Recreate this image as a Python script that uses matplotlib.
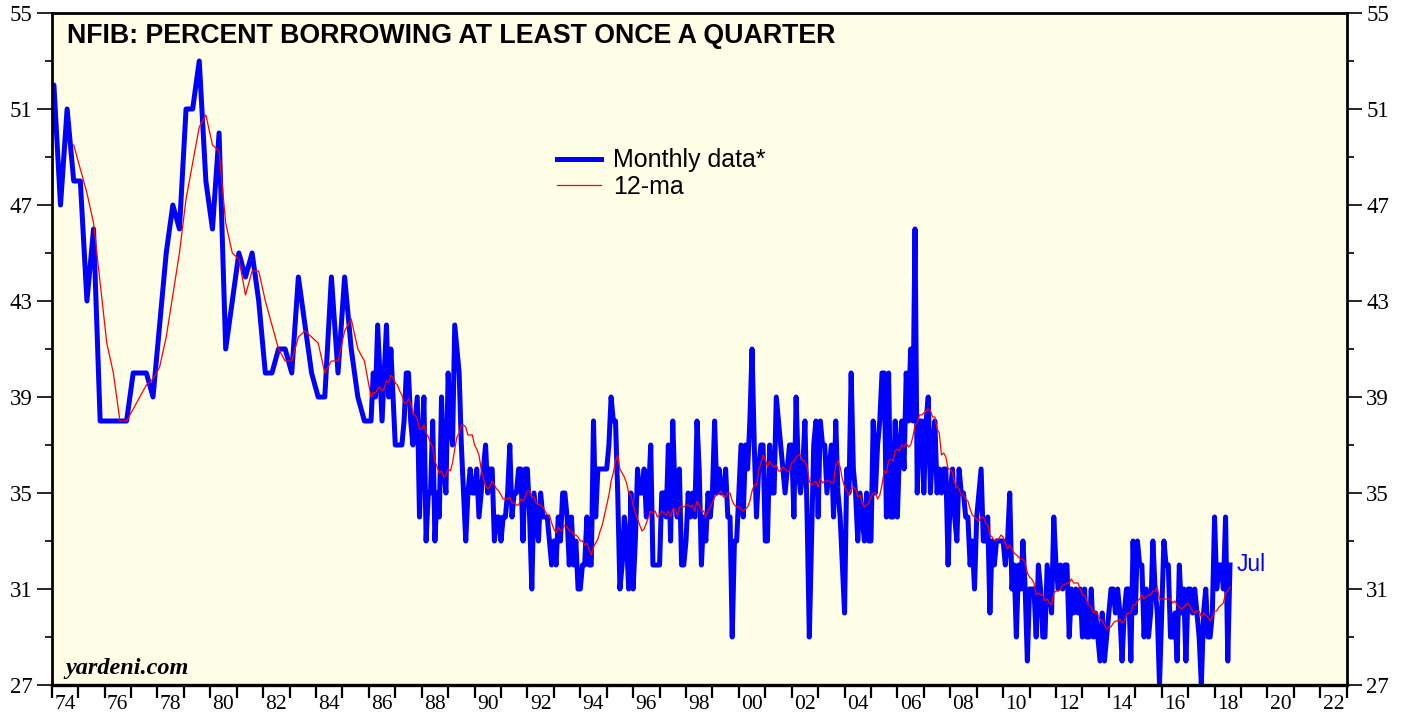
import matplotlib
matplotlib.use("Agg")
import matplotlib.pyplot as plt
from matplotlib.ticker import FixedLocator, NullFormatter
import numpy as np
import pandas as pd

# NFIB survey was quarterly (Jan/Apr/Jul/Oct) until 1985, monthly after
quarterly_start = "1973-10-01"
quarterly_values = [
    48,
    52, 47, 51, 48,
    48, 43, 46, 38,
    38, 38, 38, 38,
    40, 40, 40, 39,
    42, 45, 47, 46,
    51, 51, 53, 48,
    46, 50, 41, 43,
    45, 44, 45, 43,
    40, 40, 41, 41,
    40, 44, 42, 40,
    39, 39, 44, 40,
    44, 41, 39, 38,
]

monthly_start = "1986-01-01"
monthly_values = [
    38, 40, 39, 42, 40, 38, 40, 42, 39, 41, 39, 37,  # 1986
    37, 37, 37, 38, 40, 40, 38, 37, 38, 39, 34, 37,  # 1987
    39, 33, 35, 35, 38, 33, 35, 34, 39, 36, 35, 40,  # 1988
    38, 37, 42, 41, 40, 37, 35, 33, 35, 36, 35, 35,  # 1989
    36, 34, 35, 36, 37, 35, 36, 36, 33, 34, 34, 33,  # 1990
    34, 34, 35, 37, 34, 35, 35, 36, 36, 33, 36, 36,  # 1991
    34, 31, 35, 34, 33, 35, 34, 34, 34, 33, 32, 33,  # 1992
    32, 34, 33, 35, 35, 34, 32, 34, 32, 33, 31, 31,  # 1993
    32, 32, 34, 32, 32, 38, 34, 36, 36, 36, 36, 36,  # 1994
    37, 39, 38, 38, 35, 31, 32, 34, 33, 31, 35, 31,  # 1995
    33, 36, 35, 35, 36, 34, 35, 37, 32, 32, 32, 32,  # 1996
    35, 35, 34, 37, 33, 38, 35, 34, 36, 32, 32, 33,  # 1997
    35, 34, 35, 34, 38, 36, 32, 34, 33, 35, 34, 35,  # 1998
    38, 35, 36, 35, 35, 36, 34, 34, 29, 33, 33, 35,  # 1999
    37, 34, 37, 36, 38, 41, 37, 34, 36, 37, 37, 33,  # 2000
    33, 37, 35, 35, 39, 38, 37, 36, 35, 36, 37, 37,  # 2001
    34, 39, 36, 35, 36, 38, 34, 29, 33, 37, 38, 34,  # 2002
    38, 37, 37, 35, 36, 37, 34, 38, 35, 34, 32, 30,  # 2003
    36, 35, 40, 36, 35, 33, 35, 34, 33, 35, 33, 33,  # 2004
    38, 35, 37, 38, 40, 40, 34, 40, 34, 34, 38, 34,  # 2005
    37, 38, 36, 40, 38, 41, 38, 46, 35, 38, 38, 35,  # 2006
    38, 39, 35, 37, 38, 35, 36, 35, 36, 36, 32, 35,  # 2007
    36, 34, 33, 36, 35, 35, 34, 34, 32, 33, 31, 34,  # 2008
    35, 36, 33, 33, 34, 30, 33, 32, 33, 33, 33, 33,  # 2009
    32, 33, 35, 31, 32, 29, 32, 31, 33, 31, 28, 31,  # 2010
    31, 31, 29, 32, 31, 29, 29, 32, 31, 30, 34, 32,  # 2011
    31, 32, 31, 32, 32, 29, 31, 30, 31, 30, 31, 29,  # 2012
    31, 29, 29, 31, 29, 30, 29, 28, 30, 28, 29, 30,  # 2013
    31, 31, 30, 31, 30, 28, 30, 31, 31, 28, 33, 30,  # 2014
    33, 32, 32, 29, 31, 29, 30, 33, 31, 30, 27, 30,  # 2015
    33, 32, 32, 29, 29, 30, 28, 32, 30, 31, 28, 31,  # 2016
    31, 30, 31, 30, 29, 27, 30, 31, 29, 29, 30, 34,  # 2017
    31, 32, 32, 31, 34, 28, 32,                      # 2018
]

title = "NFIB: PERCENT BORROWING AT LEAST ONCE A QUARTER"
year_labels = list(range(1974, 2023, 2))
y_major = np.arange(27, 56, 4)
y_minor = np.arange(27, 56, 2)

q_dates = pd.date_range(quarterly_start, periods=len(quarterly_values), freq="3MS")
m_dates = pd.date_range(monthly_start, periods=len(monthly_values), freq="MS")
series = pd.Series(quarterly_values + monthly_values, index=q_dates.append(m_dates), dtype=float)

# 12-month moving average of whatever observations fall in the trailing year
ma = series.rolling("360D").mean()
ma = ma[ma.index >= "1974-10-01"]


def decimal_year(idx):
    return idx.year + idx.month / 12.0


fig = plt.figure(figsize=(14.07, 7.17), dpi=100)
ax = fig.add_axes([51.7 / 1407, 1 - 685 / 717, 1295 / 1407, 672 / 717])
ax.set_facecolor("#fefee6")

ax.plot(decimal_year(series.index), series.values, color="#0000ff", lw=3.6,
        solid_joinstyle="round", label="Monthly data*")
ax.plot(decimal_year(ma.index), ma.values, color="#ff0000", lw=0.9, label="12-ma")

ax.set_xlim(1974, 2023)
ax.set_ylim(27, 55)

serif = "Liberation Serif"
sans = "Liberation Sans"

# x axis: a tick at each year start, even-year labels centred mid-year
ax.xaxis.set_major_locator(FixedLocator(np.arange(1974, 2024)))
ax.xaxis.set_major_formatter(NullFormatter())
ax.xaxis.set_minor_locator(FixedLocator([y + 0.5 for y in year_labels]))
ax.set_xticklabels([f"{y % 100:02d}" for y in year_labels], minor=True)
ax.tick_params(axis="x", which="major", direction="out", length=9, width=1.6)
ax.tick_params(axis="x", which="minor", length=0, pad=7)

ax.yaxis.set_major_locator(FixedLocator(y_major))
ax.yaxis.set_minor_locator(FixedLocator(y_minor))
ax.tick_params(axis="y", which="both", direction="out", left=True, right=True,
               labelleft=True, labelright=True, width=1.2)
ax.tick_params(axis="y", which="major", length=11, pad=3)
ax.tick_params(axis="y", which="minor", length=5)

for lbl in ax.get_yticklabels():
    lbl.set_fontfamily(serif)
    lbl.set_fontsize(16.5)
for lbl in ax.get_xticklabels(minor=True):
    lbl.set_fontfamily(serif)
    lbl.set_fontsize(15.5)

for side in ax.spines.values():
    side.set_linewidth(2)
ax.spines["bottom"].set_linewidth(2.4)

ax.text(0.0118, 0.985, title, transform=ax.transAxes, ha="left", va="top",
        fontsize=19.3, fontweight="bold", family=sans)

ax.text(0.0103, 0.016, "yardeni.com", transform=ax.transAxes, ha="left",
        va="baseline", fontsize=17.5, fontweight="bold", fontstyle="italic", family=serif)

ax.annotate("Jul", xy=(decimal_year(series.index)[-1], series.values[-1]),
            xytext=(5, 0), textcoords="offset points", va="center", ha="left",
            color="#0000ff", fontsize=16.5, family=sans)

leg = ax.legend(loc="upper left", bbox_to_anchor=(0.373, 0.832), frameon=False,
                prop={"family": sans, "size": 18}, handlelength=1.75,
                handletextpad=0.5, labelspacing=0.1)

fig.savefig("out.png", dpi=100, facecolor="white")
